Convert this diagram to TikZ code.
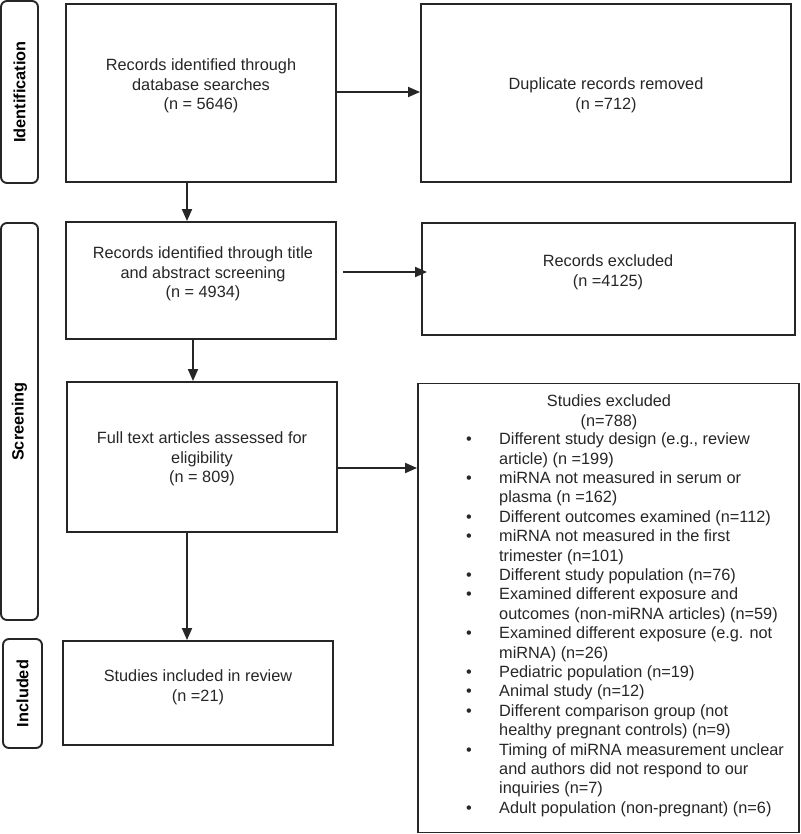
\documentclass[tikz,border=0pt]{standalone}
\usepackage{fontspec}
\setmainfont{Liberation Sans}
\usetikzlibrary{arrows.meta,calc}
\newcommand{\myb}{\makebox[33pt][l]{\textbullet}}
\newcommand{\myi}{\hspace*{33pt}}
\begin{document}
\begin{tikzpicture}[x=1pt,y=-1pt,
  font=\fontsize{16.3}{19.4}\selectfont,
  box/.style={draw=black!85, line width=1.9pt, inner sep=0pt},
  stage/.style={draw=black!85, line width=1.9pt, rounded corners=6pt, rotate=90, inner sep=0pt, font=\fontsize{16.3}{19.4}\selectfont\bfseries},
  txt/.style={anchor=north, align=center, inner sep=0pt, text=black!85},
  arr/.style={draw=black!85, line width=1.8pt, -{Triangle[length=12pt,width=10pt]}}
]
\useasboundingbox (0,0) rectangle (800,834);

% stage labels
\node[stage, minimum width=182pt, minimum height=37pt] (sid) at (19.5,92) {Identification};
\node[stage, minimum width=397pt, minimum height=37pt] (sscr) at (19.5,421.5) {Screening};
\node[stage, minimum width=109pt, minimum height=39pt] (sinc) at (22.5,693.5) {Included};

% boxes
\node[box, minimum width=270pt, minimum height=178pt] (b1) at (201,93) {};
\node[box, minimum width=370pt, minimum height=178pt] (b2) at (606,93) {};
\node[box, minimum width=270pt, minimum height=117pt] (b3) at (201,280.5) {};
\node[box, minimum width=373pt, minimum height=112pt] (b4) at (608.5,279) {};
\node[box, minimum width=270pt, minimum height=150pt] (b5) at (202,457) {};
\node[box, minimum width=381pt, minimum height=449pt] (b6) at (608.5,608) {};
\node[box, minimum width=270pt, minimum height=104pt] (b7) at (198,693) {};

% texts
\node[txt] (t1) at (201,57) {\strut Records identified through\\database searches\\(n = 5646)};
\node[txt] (t2) at (606,76) {\strut Duplicate records removed\\(n =712)};
\node[txt] (t3) at (203,245) {\strut Records identified through title\\and abstract screening\\(n = 4934)};
\node[txt] (t4) at (608,253) {\strut Records excluded\\(n =4125)};
\node[txt] (t5) at (202,430) {\strut Full text articles assessed for\\eligibility\\(n = 809)};
\node[txt] (t6) at (609,393) {\strut Studies excluded\\(n=788)};
\node[txt, anchor=north west, align=left] (t6l) at (466,431) {\strut\myb Different study design (e.g., review\\
\myi article) (n =199)\\
\myb miRNA not measured in serum or\\
\myi plasma (n =162)\\
\myb Different outcomes examined (n=112)\\
\myb miRNA not measured in the first\\
\myi trimester (n=101)\\
\myb Different study population (n=76)\\
\myb Examined different exposure and\\
\myi outcomes (non-miRNA articles) (n=59)\\
\myb Examined different exposure (e.g. not\\
\myi miRNA) (n=26)\\
\myb Pediatric population (n=19)\\
\myb Animal study (n=12)\\
\myb Different comparison group (not\\
\myi healthy pregnant controls) (n=9)\\
\myb Timing of miRNA measurement unclear\\
\myi and authors did not respond to our\\
\myi inquiries (n=7)\\
\myb Adult population (non-pregnant) (n=6)};
\node[txt] (t7) at (198,668) {\strut Studies included in review\\(n =21)};

% connectors
\draw[arr] ([yshift=1pt]b1.east) -- ([yshift=1pt]b1.east -| b2.west);
\draw[arr] ([xshift=-14pt]b1.south) -- ([xshift=-14pt]b1.south |- b3.north);
\draw[arr] ([xshift=6pt,yshift=8.5pt]b3.east) -- ([xshift=6pt,yshift=8.5pt]b3.east -| b4.west);
\draw[arr] ([xshift=-8pt]b3.south) -- ([xshift=-8pt]b3.south |- b5.north);
\draw[arr] ([yshift=-11pt]b5.east) -- ([yshift=-11pt]b5.east -| b6.west);
\draw[arr] ([xshift=-15pt]b5.south) -- ([xshift=-15pt]b5.south |- b7.north);
\end{tikzpicture}
\end{document}
